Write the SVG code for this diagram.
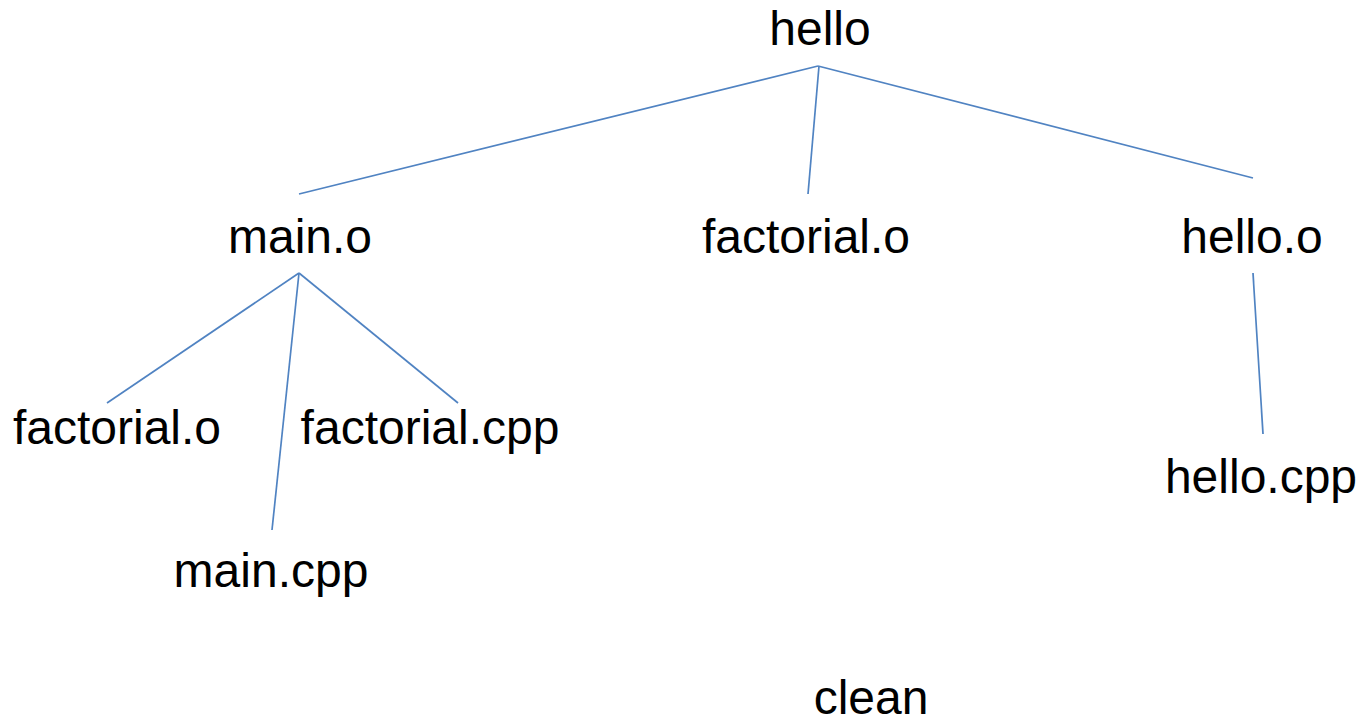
<svg xmlns="http://www.w3.org/2000/svg" width="1362" height="722" viewBox="0 0 1362 722">
  <style>
    .lbl { font-family: "Liberation Sans", Arial, sans-serif; font-size: 48px; fill: #000; text-anchor: middle; }
    .edge { stroke: #5083c2; stroke-width: 1.7; fill: none; }
  </style>
  <rect width="1362" height="722" fill="#fff"/>
  <g id="connectors">
    <line class="edge" x1="818" y1="66" x2="299" y2="194"/>
    <line class="edge" x1="819" y1="66" x2="808" y2="194"/>
    <line class="edge" x1="818" y1="66" x2="1253" y2="178"/>
    <line class="edge" x1="299" y1="273" x2="107" y2="403"/>
    <line class="edge" x1="299" y1="273" x2="272" y2="530"/>
    <line class="edge" x1="299" y1="273" x2="458" y2="403"/>
    <line class="edge" x1="1253" y1="273" x2="1263" y2="434"/>
  </g>
  <g id="hello"><text class="lbl" x="820" y="45">hello</text></g>
  <g id="main_o"><text class="lbl" x="300" y="253">main.o</text></g>
  <g id="factorial_o"><text class="lbl" x="806" y="253">factorial.o</text></g>
  <g id="hello_o"><text class="lbl" x="1252" y="253">hello.o</text></g>
  <g id="factorial_o_dep"><text class="lbl" x="117" y="444">factorial.o</text></g>
  <g id="factorial_cpp"><text class="lbl" x="430" y="444">factorial.cpp</text></g>
  <g id="main_cpp"><text class="lbl" x="271" y="587">main.cpp</text></g>
  <g id="hello_cpp"><text class="lbl" x="1261" y="493">hello.cpp</text></g>
  <g id="clean"><text class="lbl" x="871" y="714">clean</text></g>
</svg>
